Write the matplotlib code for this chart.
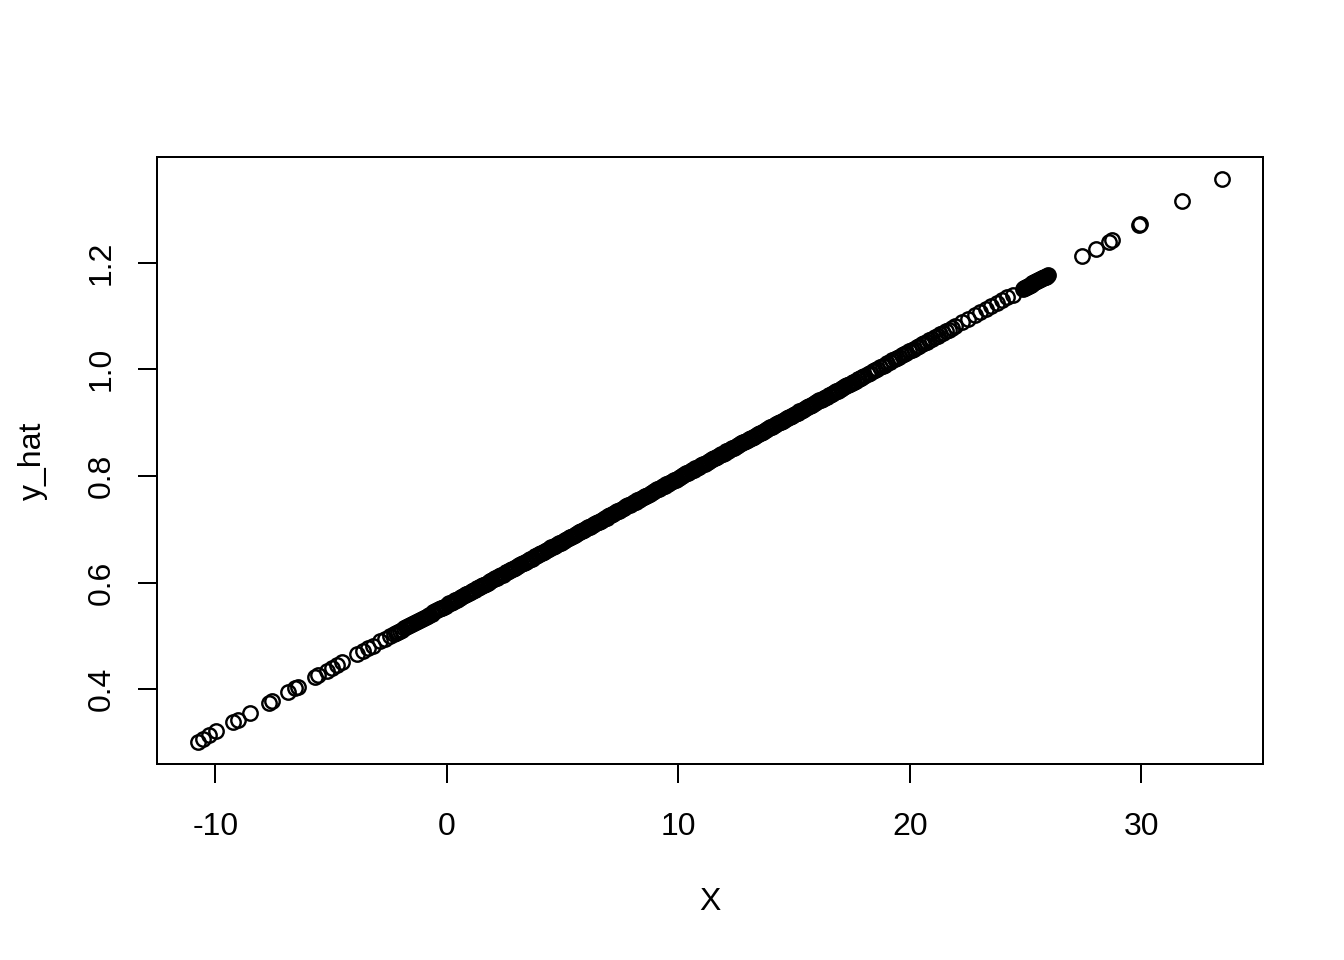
import matplotlib
matplotlib.use('Agg')
import matplotlib.pyplot as plt

plt.rcParams['font.family'] = ['Liberation Sans', 'DejaVu Sans']
plt.rcParams['font.size'] = 12
plt.rcParams['axes.unicode_minus'] = False

# left tail, points still separate
x_low = [-10.75, -10.52, -10.26, -9.96, -9.22, -9.01, -8.49, -7.67, -7.54, -6.85,
         -6.54, -6.41, -5.68, -5.55, -5.16, -4.95, -4.73, -4.51, -3.87, -3.61,
         -3.39, -3.17, -2.87, -2.66, -2.44]
y_low = [0.302, 0.307, 0.314, 0.321, 0.338, 0.343, 0.356, 0.375, 0.378, 0.395,
         0.402, 0.405, 0.423, 0.426, 0.435, 0.440, 0.445, 0.451, 0.466, 0.472,
         0.477, 0.482, 0.490, 0.495, 0.500]

# start of the band
x_lead = [-2.28, -2.19, -2.10, -2.02, -1.93, -1.84, -1.75, -1.67, -1.60, -1.51,
          -1.42, -1.33, -1.25, -1.16, -1.08, -1.00, -0.92, -0.83, -0.75, -0.66,
          -0.58, -0.50, -0.42, -0.34, -0.27, -0.20, -0.12, -0.05]
y_lead = [0.504, 0.506, 0.508, 0.510, 0.512, 0.514, 0.516, 0.518, 0.520, 0.522,
          0.524, 0.526, 0.528, 0.530, 0.532, 0.534, 0.536, 0.538, 0.540, 0.542,
          0.544, 0.546, 0.548, 0.550, 0.552, 0.553, 0.555, 0.557]

# dense band 0..18
x_dense = [0.05, 0.18, 0.31, 0.42, 0.57, 0.70, 0.83, 0.95, 1.10, 1.22,
           1.36, 1.49, 1.61, 1.76, 1.88, 2.02, 2.15, 2.27, 2.41, 2.55,
           2.68, 2.80, 2.94, 3.07, 3.21, 3.33, 3.47, 3.60, 3.74, 3.86,
           4.00, 4.13, 4.26, 4.40, 4.52, 4.66, 4.79, 4.93, 5.05, 5.19,
           5.32, 5.45, 5.59, 5.71, 5.85, 5.98, 6.12, 6.24, 6.38, 6.51,
           6.64, 6.78, 6.90, 7.04, 7.17, 7.31, 7.43, 7.57, 7.70, 7.83,
           7.97, 8.09, 8.23, 8.36, 8.50, 8.62, 8.76, 8.89, 9.02, 9.16,
           9.28, 9.42, 9.55, 9.69, 9.81, 9.95, 10.08, 10.21, 10.35, 10.47,
           10.61, 10.74, 10.88, 11.00, 11.14, 11.27, 11.40, 11.54, 11.66, 11.80,
           11.93, 12.07, 12.19, 12.33, 12.46, 12.59, 12.73, 12.85, 12.99, 13.12,
           13.26, 13.38, 13.52, 13.65, 13.78, 13.92, 14.04, 14.18, 14.31, 14.45,
           14.57, 14.71, 14.84, 14.97, 15.11, 15.23, 15.37, 15.50, 15.64, 15.76,
           15.90, 16.03, 16.16, 16.30, 16.42, 16.56, 16.69, 16.83, 16.95, 17.09,
           17.22, 17.35, 17.49, 17.61, 17.75, 17.88, 18.02]
y_dense = [0.559, 0.562, 0.565, 0.568, 0.572, 0.575, 0.578, 0.581, 0.584, 0.587,
           0.590, 0.593, 0.596, 0.600, 0.603, 0.606, 0.609, 0.612, 0.615, 0.619,
           0.622, 0.625, 0.628, 0.631, 0.634, 0.637, 0.641, 0.644, 0.647, 0.650,
           0.653, 0.656, 0.659, 0.663, 0.666, 0.669, 0.672, 0.675, 0.678, 0.682,
           0.685, 0.688, 0.691, 0.694, 0.697, 0.700, 0.704, 0.707, 0.710, 0.713,
           0.716, 0.720, 0.722, 0.726, 0.729, 0.732, 0.735, 0.738, 0.741, 0.745,
           0.748, 0.751, 0.754, 0.757, 0.760, 0.763, 0.767, 0.770, 0.773, 0.776,
           0.779, 0.782, 0.785, 0.789, 0.792, 0.795, 0.798, 0.801, 0.805, 0.807,
           0.811, 0.814, 0.817, 0.820, 0.823, 0.826, 0.830, 0.833, 0.836, 0.839,
           0.842, 0.846, 0.848, 0.852, 0.855, 0.858, 0.861, 0.864, 0.867, 0.871,
           0.874, 0.877, 0.880, 0.883, 0.886, 0.890, 0.892, 0.896, 0.899, 0.902,
           0.905, 0.908, 0.911, 0.915, 0.918, 0.921, 0.924, 0.927, 0.931, 0.933,
           0.937, 0.940, 0.943, 0.946, 0.949, 0.952, 0.956, 0.959, 0.962, 0.965,
           0.968, 0.971, 0.975, 0.977, 0.981, 0.984, 0.987]

# more of the dense band (the band is solid black in the picture)
x_dense2 = [0.11, 0.25, 0.37, 0.50, 0.63, 0.77, 0.89, 1.03, 1.16, 1.29,
            1.43, 1.55, 1.69, 1.82, 1.95, 2.09, 2.21, 2.34, 2.48, 2.62,
            2.74, 2.87, 3.01, 3.14, 3.27, 3.40, 3.54, 3.67, 3.80, 3.93,
            4.07, 4.19, 4.33, 4.46, 4.59, 4.73, 4.86, 4.99, 5.12, 5.26,
            5.38, 5.52, 5.65, 5.78, 5.92, 6.05, 6.18, 6.31, 6.45, 6.57,
            6.71, 6.84, 6.97, 7.11, 7.24, 7.37, 7.50, 7.64, 7.76, 7.90,
            8.03, 8.16, 8.29, 8.43, 8.56, 8.69, 8.83, 8.95, 9.09, 9.22,
            9.35, 9.48, 9.62, 9.75, 9.88, 10.02, 10.14, 10.28, 10.41, 10.54,
            10.67, 10.81, 10.94, 11.07, 11.21, 11.33, 11.47, 11.60, 11.73, 11.86,
            12.00, 12.13, 12.26, 12.39, 12.52, 12.66, 12.79, 12.92, 13.05, 13.19,
            13.32, 13.45, 13.58, 13.72, 13.85, 13.98, 14.11, 14.24, 14.38, 14.51,
            14.64, 14.77, 14.91, 15.04, 15.17, 15.30, 15.43, 15.57, 15.70, 15.83,
            15.96, 16.10, 16.23, 16.36, 16.49, 16.62, 16.76, 16.89, 17.02, 17.15,
            17.29, 17.42, 17.55, 17.68, 17.81, 17.95]
y_dense2 = [0.561, 0.564, 0.567, 0.570, 0.573, 0.576, 0.579, 0.583, 0.586, 0.589,
            0.592, 0.595, 0.598, 0.601, 0.604, 0.608, 0.611, 0.614, 0.617, 0.620,
            0.623, 0.626, 0.630, 0.633, 0.636, 0.639, 0.642, 0.645, 0.649, 0.652,
            0.655, 0.658, 0.661, 0.664, 0.667, 0.671, 0.674, 0.677, 0.680, 0.683,
            0.686, 0.689, 0.693, 0.696, 0.699, 0.702, 0.705, 0.708, 0.712, 0.714,
            0.718, 0.721, 0.724, 0.727, 0.730, 0.734, 0.737, 0.740, 0.743, 0.746,
            0.749, 0.752, 0.755, 0.759, 0.762, 0.765, 0.768, 0.771, 0.775, 0.778,
            0.781, 0.784, 0.787, 0.790, 0.793, 0.797, 0.800, 0.803, 0.806, 0.809,
            0.812, 0.815, 0.819, 0.822, 0.825, 0.828, 0.831, 0.834, 0.837, 0.841,
            0.844, 0.847, 0.850, 0.853, 0.856, 0.860, 0.863, 0.866, 0.869, 0.872,
            0.875, 0.878, 0.881, 0.885, 0.888, 0.891, 0.894, 0.897, 0.901, 0.904,
            0.907, 0.910, 0.913, 0.916, 0.919, 0.922, 0.926, 0.929, 0.932, 0.935,
            0.938, 0.942, 0.945, 0.948, 0.951, 0.954, 0.957, 0.960, 0.963, 0.967,
            0.970, 0.973, 0.976, 0.979, 0.982, 0.986]

# thinning out above 18
x_upper = [18.20, 18.30, 18.41, 18.51, 18.60, 18.72, 18.83, 18.93, 19.02, 19.13,
           19.25, 19.35, 19.44, 19.55, 19.66, 19.76, 19.85, 19.97, 20.08, 20.19,
           20.30, 20.40, 20.51, 20.62, 20.74, 20.85, 20.95, 21.07, 21.20, 21.31,
           21.42, 21.55, 21.68, 21.82, 21.95, 22.25, 22.52, 22.80, 23.05, 23.30,
           23.52, 23.78, 24.00, 24.22, 24.45]
y_upper = [0.992, 0.994, 0.997, 0.999, 1.001, 1.004, 1.007, 1.009, 1.011, 1.014,
           1.017, 1.019, 1.021, 1.024, 1.026, 1.029, 1.031, 1.034, 1.036, 1.039,
           1.042, 1.044, 1.047, 1.049, 1.052, 1.055, 1.057, 1.060, 1.063, 1.066,
           1.068, 1.071, 1.074, 1.078, 1.081, 1.088, 1.094, 1.101, 1.107, 1.113,
           1.118, 1.124, 1.130, 1.135, 1.140]

# clump near 25
x_clump = [24.88, 24.92, 24.97, 25.01, 25.05, 25.09, 25.13, 25.18, 25.22, 25.26,
           25.30, 25.34, 25.38, 25.42, 25.47, 25.51, 25.55, 25.59, 25.63, 25.67,
           25.72, 25.76, 25.80, 25.84, 25.88, 25.92, 25.95]
y_clump = [1.151, 1.152, 1.153, 1.154, 1.155, 1.156, 1.157, 1.158, 1.159, 1.160,
           1.161, 1.162, 1.163, 1.164, 1.165, 1.166, 1.167, 1.168, 1.169, 1.169,
           1.171, 1.172, 1.173, 1.174, 1.174, 1.175, 1.176]

# right tail
x_high = [27.44, 28.06, 28.59, 28.73, 29.90, 29.96, 31.76, 33.49]
y_high = [1.212, 1.226, 1.239, 1.242, 1.270, 1.272, 1.315, 1.356]

X = x_low + x_lead + x_dense + x_dense2 + x_upper + x_clump + x_high
y_hat = y_low + y_lead + y_dense + y_dense2 + y_upper + y_clump + y_high

x_ticks = [-10, 0, 10, 20, 30]
y_ticks = [0.4, 0.6, 0.8, 1.0, 1.2]

fig = plt.figure(figsize=(7, 5), dpi=192)
ax = fig.add_axes([157 / 1344, 1 - 764 / 960, 1106 / 1344, 607 / 960])

ax.plot(X, y_hat, 'o', ls='none', mfc='none', mec='black', ms=5.4, mew=0.9)
ax.margins(0.04)

ax.set_xticks(x_ticks)
ax.set_yticks(y_ticks)
ax.set_yticklabels([f'{v:.1f}' for v in y_ticks], rotation=90, va='center')
ax.tick_params(axis='both', length=7.1, width=0.75, color='black', labelsize=12)
ax.tick_params(axis='x', pad=11)
ax.tick_params(axis='y', pad=8)
for s in ax.spines.values():
    s.set_linewidth(0.75)

ax.set_xlabel('X', fontsize=12, va='baseline')
ax.xaxis.set_label_coords(0.5, -0.241)
ax.set_ylabel('y_hat', fontsize=12, rotation=90, rotation_mode='anchor',
              ha='center', va='baseline')
ax.yaxis.set_label_coords(-0.105, 0.5)

fig.savefig('out.png', dpi=192)
